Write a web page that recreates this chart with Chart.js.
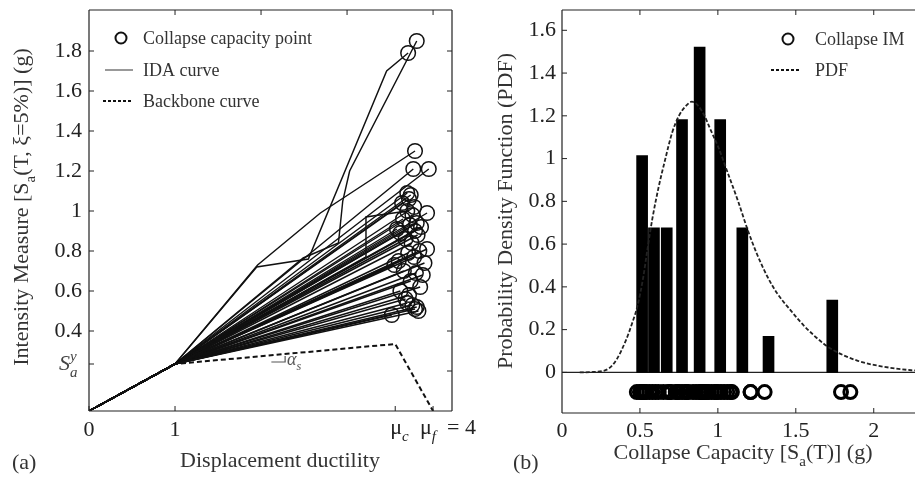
<!DOCTYPE html>
<html><head><meta charset="utf-8">
<script src="https://cdn.jsdelivr.net/npm/chart.js@4.4.1/dist/chart.umd.min.js"></script>
<style>
html,body{margin:0;padding:0;background:#fff;overflow:hidden;width:915px;height:479px}
canvas{position:absolute;top:0}
#c1{left:0}
#c2{left:460px}
</style></head>
<body>
<canvas id="c1" width="480" height="479"></canvas>
<canvas id="c2" width="470" height="479"></canvas>
<script>
// ---------- Panel (a) data ----------
const SaY = 0.235;
const muC = 3.56;
const muF = 4;
const backboneDuct = [0, 1, muC, muF];
const backboneIM = [0, SaY, 0.335, 0];
const collapseIM = [
  0.48, 0.50, 0.51, 0.52, 0.53, 0.54,
  0.56, 0.58, 0.60, 0.62,
  0.65, 0.68, 0.69, 0.70,
  0.73, 0.74, 0.75, 0.77, 0.79, 0.80, 0.81,
  0.84, 0.86, 0.88, 0.89, 0.90, 0.91, 0.92, 0.93, 0.94,
  0.96, 0.98, 0.99, 1.00, 1.02, 1.04, 1.06,
  1.08, 1.09, 1.21, 1.21,
  1.30,
  1.79, 1.85
];
const collapseDuct = [
  3.52, 3.83, 3.79, 3.81, 3.76, 3.70,
  3.68, 3.72, 3.62, 3.85,
  3.74, 3.88, 3.80, 3.66,
  3.55, 3.90, 3.60, 3.78, 3.71, 3.84, 3.93,
  3.75, 3.68, 3.82, 3.62, 3.79, 3.58, 3.86, 3.73, 3.81,
  3.65, 3.76, 3.93, 3.70, 3.78, 3.64, 3.72,
  3.74, 3.70, 3.77, 3.95,
  3.79,
  3.71, 3.81
];
// IDA curves with intermediate points (index into collapse arrays)
const bendIdx  = [41, 42, 43, 33];
const bendDuct = [[1.96, 2.69], [1.95, 2.55, 3.46], [2.49, 2.90, 2.95, 3.03], [3.22, 3.22]];
const bendIM   = [[0.73, 0.99], [0.72, 0.76, 1.70], [0.765, 0.84, 1.05, 1.20], [0.77, 0.97]];
const xTicksA = [0, 1, muC, muF];
const xTopTicksA = [1, 2, 3, 4];
const yTicksA = [0.4, 0.6, 0.8, 1, 1.2, 1.4, 1.6, 1.8];
const yRightTicksA = [0.2, 0.4, 0.6, 0.8, 1, 1.2, 1.4, 1.6, 1.8];

// ---------- Panel (b) data ----------
const binCenters = [0.514, 0.59, 0.672, 0.77, 0.883, 1.015, 1.157, 1.325, 1.734];
const binPDF     = [1.014, 0.676, 0.676, 1.183, 1.521, 1.183, 0.676, 0.169, 0.338];
const pdfX = [0.114, 0.2, 0.3, 0.35, 0.41, 0.45, 0.484, 0.52, 0.547, 0.58, 0.621, 0.66, 0.706, 0.75, 0.8, 0.833, 0.87, 0.917, 0.95, 1.002, 1.065, 1.13, 1.192, 1.25, 1.319, 1.38, 1.467, 1.55, 1.679, 1.75, 1.89, 2.0, 2.24, 2.3];
const pdfY = [0, 0.002, 0.018, 0.06, 0.15, 0.23, 0.31, 0.44, 0.57, 0.72, 0.87, 0.99, 1.12, 1.2, 1.25, 1.266, 1.25, 1.196, 1.14, 1.055, 0.93, 0.8, 0.665, 0.555, 0.446, 0.37, 0.29, 0.22, 0.134, 0.1, 0.056, 0.035, 0.01, 0.008];
const imRowY = -0.092;
const xTicksB = [0, 0.5, 1, 1.5, 2];
const yTicksB = [0, 0.2, 0.4, 0.6, 0.8, 1, 1.2, 1.4, 1.6];

// ---------- helpers ----------
const FONT = "'Liberation Serif','Times New Roman',serif";
const TXT = '#222';
Chart.defaults.font.family = FONT;
Chart.defaults.color = TXT;

function fontOf(r, fs) {
  const size = (r.sub || r.sup) ? fs * 0.68 : fs;
  return (r.it ? 'italic ' : '') + size.toFixed(1) + 'px ' + FONT;
}
function runsWidth(ctx, runs, fs) {
  let w = 0;
  runs.forEach(r => { ctx.font = fontOf(r, fs); if (!r.stack) w += ctx.measureText(r.t).width; });
  return w;
}
function drawRuns(ctx, runs, x, y, fs, align, rot, color) {
  ctx.save();
  ctx.translate(x, y);
  if (rot) ctx.rotate(rot);
  const w = runsWidth(ctx, runs, fs);
  let cx = align === 'center' ? -w / 2 : align === 'right' ? -w : 0;
  ctx.textAlign = 'left';
  ctx.textBaseline = 'alphabetic';
  ctx.fillStyle = color || TXT;
  let lastX = cx;
  runs.forEach(r => {
    ctx.font = fontOf(r, fs);
    const dy = r.sub ? fs * 0.3 : r.sup ? -fs * 0.4 : 0;
    const px = r.stack ? lastX : cx;
    ctx.fillText(r.t, px, dy);
    if (!r.stack) { lastX = cx; cx += ctx.measureText(r.t).width; }
  });
  ctx.restore();
}
function frameAndTicks(chart, sides) {
  const ctx = chart.ctx, a = chart.chartArea, xs = chart.scales.x, ys = chart.scales.y;
  ctx.save();
  ctx.strokeStyle = '#222';
  ctx.lineWidth = 1.2;
  ctx.beginPath();
  ctx.moveTo(a.left, a.top); ctx.lineTo(a.right, a.top);
  ctx.moveTo(a.left, a.top); ctx.lineTo(a.left, a.bottom);
  ctx.moveTo(a.left, a.bottom); ctx.lineTo(a.right, a.bottom);
  ctx.moveTo(a.right, a.top); ctx.lineTo(a.right, a.bottom);
  ctx.stroke();
  ctx.lineWidth = 1;
  const L = 5;
  ctx.beginPath();
  sides.bottom.forEach(v => { const p = xs.getPixelForValue(v); ctx.moveTo(p, a.bottom); ctx.lineTo(p, a.bottom - L); });
  sides.top.forEach(v => { const p = xs.getPixelForValue(v); ctx.moveTo(p, a.top); ctx.lineTo(p, a.top + L); });
  sides.left.forEach(v => { const p = ys.getPixelForValue(v); ctx.moveTo(a.left, p); ctx.lineTo(a.left + L, p); });
  sides.right.forEach(v => { const p = ys.getPixelForValue(v); ctx.moveTo(a.right, p); ctx.lineTo(a.right - L, p); });
  ctx.stroke();
  ctx.restore();
}
function setTicks(list) { return s => { s.ticks = list.map(v => ({ value: v })); }; }

// ---------- Panel (a) ----------
const idaSets = collapseIM.map((v, i) => {
  const pts = [{ x: 0, y: 0 }, { x: 1, y: SaY }];
  const b = bendIdx.indexOf(i);
  if (b >= 0) bendDuct[b].forEach((bx, k) => pts.push({ x: bx, y: bendIM[b][k] }));
  pts.push({ x: collapseDuct[i], y: v });
  return { type: 'line', label: 'IDA curve', data: pts, borderColor: '#111', borderWidth: 1.45,
           pointRadius: 0, fill: false, tension: 0, order: 2 };
});

const panelA = {
  id: 'panelA',
  afterDraw(chart) {
    const ctx = chart.ctx, xs = chart.scales.x, ys = chart.scales.y;
    frameAndTicks(chart, { bottom: xTicksA, top: xTopTicksA, left: [SaY].concat(yTicksA), right: yRightTicksA });
    // special tick labels
    drawRuns(ctx, [{ t: 'S', it: true }, { t: 'a', it: true, sub: true }, { t: 'y', it: true, sup: true, stack: true }],
             59, ys.getPixelForValue(SaY) + 6, 22, 'left', 0, '#444');
    drawRuns(ctx, [{ t: 'μ' }, { t: 'c', it: true, sub: true }], xs.getPixelForValue(muC) - 5, 434, 22, 'left', 0);
    drawRuns(ctx, [{ t: 'μ' }, { t: 'f', it: true, sub: true }, { t: '  = 4' }], xs.getPixelForValue(muF) - 13, 434, 22, 'left', 0);
    // alpha_s annotation
    ctx.save();
    ctx.strokeStyle = '#555'; ctx.lineWidth = 1.2;
    ctx.beginPath();
    const ax0 = xs.getPixelForValue(2.12), ax1 = xs.getPixelForValue(2.28), ay = ys.getPixelForValue(0.245);
    ctx.moveTo(ax0, ay); ctx.lineTo(ax1, ay); ctx.lineTo(ax1, ay - 6);
    ctx.stroke();
    ctx.restore();
    drawRuns(ctx, [{ t: 'α', it: true }, { t: 's', it: true, sub: true }], ax1 + 2, ay + 3, 18, 'left', 0, '#555');
    // legend
    ctx.save();
    ctx.strokeStyle = '#111'; ctx.lineWidth = 2;
    ctx.beginPath(); ctx.arc(121, 38, 5.5, 0, Math.PI * 2); ctx.stroke();
    ctx.strokeStyle = '#999'; ctx.lineWidth = 2;
    ctx.beginPath(); ctx.moveTo(105, 70); ctx.lineTo(133, 70); ctx.stroke();
    ctx.strokeStyle = '#111'; ctx.setLineDash([3, 2]);
    ctx.beginPath(); ctx.moveTo(103, 101); ctx.lineTo(133, 101); ctx.stroke();
    ctx.restore();
    drawRuns(ctx, [{ t: 'Collapse capacity point' }], 143, 44, 18, 'left', 0, '#333');
    drawRuns(ctx, [{ t: 'IDA curve' }], 143, 76, 18, 'left', 0, '#333');
    drawRuns(ctx, [{ t: 'Backbone curve' }], 143, 107, 18, 'left', 0, '#333');
    // axis titles
    drawRuns(ctx, [{ t: 'Displacement ductility' }], 280, 467, 22, 'center', 0, '#333');
    drawRuns(ctx, [{ t: 'Intensity Measure [S' }, { t: 'a', sub: true }, { t: '(T, ξ=5%)] (g)' }], 28, 207, 22, 'center', -Math.PI / 2, '#333');
    drawRuns(ctx, [{ t: '(a)' }], 12, 469, 22, 'left', 0, '#333');
  }
};

new Chart(document.getElementById('c1'), {
  type: 'line',
  data: {
    datasets: [
      { type: 'scatter', label: 'Collapse capacity point', data: collapseIM.map((v, i) => ({ x: collapseDuct[i], y: v })),
        pointStyle: 'circle', pointRadius: 7.3, pointBorderWidth: 1.5, pointBorderColor: '#111',
        pointBackgroundColor: 'rgba(0,0,0,0)', borderColor: '#111', backgroundColor: 'rgba(0,0,0,0)', order: 0 },
      { type: 'line', label: 'Backbone curve', data: backboneDuct.map((d, i) => ({ x: d, y: backboneIM[i] })),
        borderColor: '#111', borderWidth: 2, borderDash: [5, 3], pointRadius: 0, fill: false, tension: 0, order: 1 }
    ].concat(idaSets)
  },
  options: {
    responsive: false, animation: false, devicePixelRatio: 1,
    layout: { padding: { top: 10, right: 28, left: 0, bottom: 0 } },
    plugins: { legend: { display: false }, tooltip: { enabled: false } },
    scales: {
      x: {
        type: 'linear', min: 0, max: 4.22, offset: false,
        grid: { display: false, drawTicks: false }, border: { display: false },
        ticks: { font: { size: 22 }, color: TXT, padding: 6, autoSkip: false, maxRotation: 0,
                 callback: v => (v === 0 ? '0' : v === 1 ? '1' : '') },
        afterBuildTicks: setTicks(xTicksA),
        afterFit: s => { s.height = 68; s.paddingLeft = 0; s.paddingRight = 0; }
      },
      y: {
        type: 'linear', min: 0, max: 2.005,
        grid: { display: false, drawTicks: false }, border: { display: false },
        ticks: { font: { size: 22 }, color: TXT, padding: 7, autoSkip: false,
                 callback: v => (v === SaY ? '' : String(v)) },
        afterBuildTicks: setTicks([SaY].concat(yTicksA)),
        afterFit: s => { s.width = 89; s.paddingTop = 0; s.paddingBottom = 0; }
      }
    }
  },
  plugins: [panelA]
});

// ---------- Panel (b) ----------
const panelB = {
  id: 'panelB',
  beforeDatasetsDraw(chart) {
    const ctx = chart.ctx, a = chart.chartArea, ys = chart.scales.y;
    const p = ys.getPixelForValue(0);
    ctx.save(); ctx.strokeStyle = '#222'; ctx.lineWidth = 1.2;
    ctx.beginPath(); ctx.moveTo(a.left, p); ctx.lineTo(a.right, p); ctx.stroke(); ctx.restore();
  },
  afterDraw(chart) {
    const ctx = chart.ctx;
    frameAndTicks(chart, { bottom: xTicksB.slice(1), top: xTicksB.slice(1), left: yTicksB, right: [] });
    // legend
    ctx.save();
    ctx.strokeStyle = '#111'; ctx.lineWidth = 2;
    ctx.beginPath(); ctx.arc(328, 39, 5.5, 0, Math.PI * 2); ctx.stroke();
    ctx.setLineDash([3, 2]); ctx.lineWidth = 1.8;
    ctx.beginPath(); ctx.moveTo(311, 70); ctx.lineTo(341, 70); ctx.stroke();
    ctx.restore();
    drawRuns(ctx, [{ t: 'Collapse IM' }], 355, 45, 18, 'left', 0, '#333');
    drawRuns(ctx, [{ t: 'PDF' }], 355, 76, 18, 'left', 0, '#333');
    // titles
    drawRuns(ctx, [{ t: 'Collapse Capacity [S' }, { t: 'a', sub: true }, { t: '(T)] (g)' }], 283, 459, 22, 'center', 0, '#333');
    drawRuns(ctx, [{ t: 'Probability Density Function (PDF)' }], 52, 211, 22, 'center', -Math.PI / 2, '#333');
    drawRuns(ctx, [{ t: '(b)' }], 53, 469, 22, 'left', 0, '#333');
  }
};

new Chart(document.getElementById('c2'), {
  type: 'scatter',
  data: {
    datasets: [
      { type: 'scatter', label: 'Collapse IM', data: collapseIM.map(v => ({ x: v, y: imRowY })),
        pointStyle: 'circle', pointRadius: 6.5, pointBorderWidth: 3, pointBorderColor: '#000',
        pointBackgroundColor: 'rgba(0,0,0,0)', borderColor: '#000', backgroundColor: 'rgba(0,0,0,0)', order: 0 },
      { type: 'line', label: 'PDF', data: pdfX.map((x, i) => ({ x: x, y: pdfY[i] })),
        borderColor: '#222', borderWidth: 1.8, borderDash: [4, 2], pointRadius: 0, fill: false,
        cubicInterpolationMode: 'monotone', order: 1 },
      { type: 'bar', label: 'Histogram', data: binCenters.map((c, i) => ({ x: c, y: binPDF[i] })),
        backgroundColor: '#000', borderWidth: 0, barThickness: 11, grouped: false, order: 2 }
    ]
  },
  options: {
    responsive: false, animation: false, devicePixelRatio: 1,
    layout: { padding: { top: 10, right: 5.3, left: 0, bottom: 0 } },
    plugins: { legend: { display: false }, tooltip: { enabled: false } },
    scales: {
      x: {
        type: 'linear', min: 0, max: 2.3, offset: false,
        grid: { display: false, drawTicks: false, offset: false }, border: { display: false },
        ticks: { font: { size: 22 }, color: TXT, padding: 5, autoSkip: false, maxRotation: 0,
                 callback: v => String(v) },
        afterBuildTicks: setTicks(xTicksB),
        afterFit: s => { s.height = 66; s.paddingLeft = 0; s.paddingRight = 0; }
      },
      y: {
        type: 'linear', min: -0.19, max: 1.695,
        grid: { display: false, drawTicks: false }, border: { display: false },
        ticks: { font: { size: 22 }, color: TXT, padding: 6, autoSkip: false,
                 callback: v => String(v) },
        afterBuildTicks: setTicks(yTicksB),
        afterFit: s => { s.width = 102; s.paddingTop = 0; s.paddingBottom = 0; }
      }
    }
  },
  plugins: [panelB]
});
</script>
</body></html>
